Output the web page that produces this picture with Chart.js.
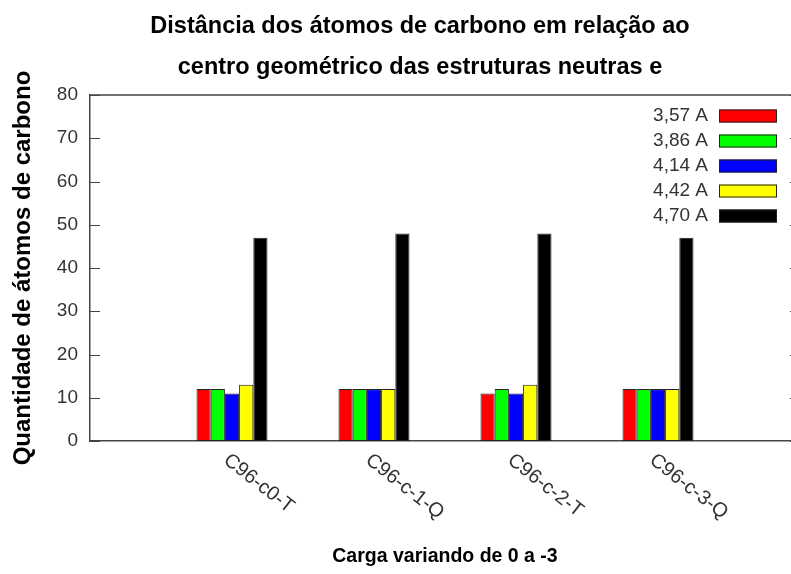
<!DOCTYPE html>
<html>
<head>
<meta charset="utf-8">
<title>Distância dos átomos de carbono</title>
<script src="https://cdn.jsdelivr.net/npm/chart.js@4.4.1/dist/chart.umd.min.js"></script>
<style>
    html, body { margin: 0; padding: 0; background: #fff; overflow: hidden; }
    #myCanvas { display: block; }
</style>
</head>
<body>
<canvas id="myCanvas" width="840" height="574"></canvas>
<script>
// data
const categories = ['C96-c0-T', 'C96-c-1-Q', 'C96-c-2-T', 'C96-c-3-Q'];
const seriesLabels = ['3,57 A', '3,86 A', '4,14 A', '4,42 A', '4,70 A'];
const d357 = [12, 12, 11, 12];
const d386 = [12, 12, 12, 12];
const d414 = [11, 12, 11, 12];
const d442 = [13, 12, 13, 12];
const d470 = [47, 48, 48, 47];
const yTicks = [0, 10, 20, 30, 40, 50, 60, 70, 80];

const titleLines = ['Distância dos átomos de carbono em relação ao', 'centro geométrico das estruturas neutras e'];
const xTitle = 'Carga variando de 0 a -3';
const yTitle = 'Quantidade de átomos de carbono';

const colors = ['#ff0000', '#00ff00', '#0000ff', '#ffff00', '#000000'];
const FONT = '"Liberation Sans", Arial, sans-serif';
const AXIS_COLOR = '#444';

// one empty slot on each side, like the gnuplot xrange [-1:4]
const labels = ['', ...categories, ''];
const series = [d357, d386, d414, d442, d470];

const datasets = series.map((values, i) => ({
    label: seriesLabels[i],
    data: [null, ...values, null],
    backgroundColor: colors[i],
    borderColor: '#222',
    borderWidth: 1,
    borderSkipped: false,
    categoryPercentage: 0.5,
    barPercentage: 1.0
}));

// frame top line, inward ticks, rotated category labels and the key inside the plot
const gnuplotLook = {
    id: 'gnuplotLook',
    afterDraw(chart) {
        const ctx = chart.ctx;
        const area = chart.chartArea;
        const x = chart.scales.x;
        const y = chart.scales.y;
        ctx.save();

        ctx.strokeStyle = AXIS_COLOR;
        ctx.lineWidth = 1.5;
        ctx.beginPath();
        ctx.moveTo(area.left, area.top);
        ctx.lineTo(area.right, area.top);
        ctx.stroke();

        ctx.lineWidth = 1;
        y.ticks.forEach((t, i) => {
            const py = Math.round(y.getPixelForTick(i)) + 0.5;
            ctx.beginPath();
            ctx.moveTo(area.left, py);
            ctx.lineTo(area.left + 10, py);
            ctx.moveTo(area.right, py);
            ctx.lineTo(area.right - 10, py);
            ctx.stroke();
        });

        ctx.fillStyle = '#333';
        ctx.font = '20px ' + FONT;
        ctx.textAlign = 'left';
        ctx.textBaseline = 'top';
        categories.forEach((c, i) => {
            const px = x.getPixelForValue(i + 1);
            ctx.save();
            ctx.translate(px, area.bottom + 9);
            ctx.rotate(38 * Math.PI / 180);
            ctx.fillText(c, 0, 0);
            ctx.restore();
        });

        ctx.font = '19px ' + FONT;
        chart.data.datasets.forEach((ds, i) => {
            const cy = area.top + 21 + i * 25;
            ctx.fillStyle = '#333';
            ctx.textAlign = 'right';
            ctx.textBaseline = 'middle';
            ctx.fillText(ds.label, area.right - 92, cy);
            ctx.fillStyle = ds.backgroundColor;
            ctx.fillRect(area.right - 81, cy - 6.5, 58, 13);
            ctx.strokeStyle = '#222';
            ctx.strokeRect(area.right - 80.5, cy - 6, 57, 12);
        });

        ctx.restore();
    }
};

const ctx = document.getElementById('myCanvas').getContext('2d');
const myChart = new Chart(ctx, {
    type: 'bar',
    data: {
        labels: labels,
        datasets: datasets
    },
    options: {
        responsive: false,
        animation: false,
        layout: { padding: 0 },
        plugins: {
            legend: { display: false },
            tooltip: { enabled: false },
            title: {
                display: true,
                text: titleLines,
                color: '#000',
                font: { family: FONT, size: 23.5, weight: 'bold', lineHeight: 1.745 },
                padding: { top: 6.5, bottom: 6.5 }
            }
        },
        scales: {
            x: {
                offset: false,
                grid: { display: false, drawTicks: false },
                border: { display: true, color: AXIS_COLOR, width: 1.5 },
                ticks: { display: false },
                title: {
                    display: true,
                    text: xTitle,
                    color: '#000',
                    font: { family: FONT, size: 19.5, weight: 'bold' },
                    padding: { top: 0, bottom: 6 }
                },
                afterFit(scale) { scale.height = 133; }
            },
            y: {
                min: 0,
                max: 80,
                grid: { display: false, drawTicks: false },
                border: { display: true, color: AXIS_COLOR, width: 1.5 },
                ticks: {
                    padding: 12,
                    color: '#333',
                    font: { family: FONT, size: 19 }
                },
                afterBuildTicks(scale) {
                    scale.ticks = yTicks.map(v => ({ value: v }));
                },
                title: {
                    display: true,
                    text: yTitle,
                    color: '#000',
                    font: { family: FONT, size: 24, weight: 'bold' },
                    padding: { top: 9, bottom: 0 }
                },
                afterFit(scale) { scale.width = 90; }
            },
            y2: {
                position: 'right',
                min: 0,
                max: 80,
                grid: { display: false, drawTicks: false },
                border: { display: true, color: AXIS_COLOR, width: 1.5 },
                ticks: { display: false },
                afterFit(scale) { scale.width = 40; }
            }
        }
    },
    plugins: [gnuplotLook]
});
</script>
</body>
</html>
